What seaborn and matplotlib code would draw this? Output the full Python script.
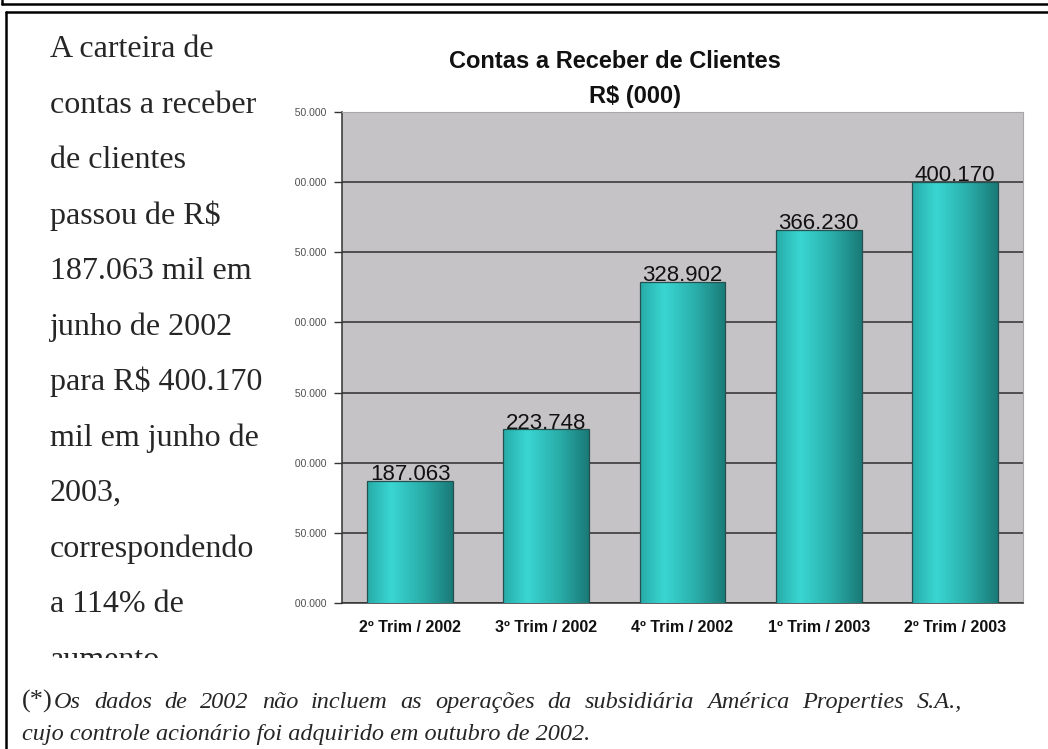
# Contas a Receber de Clientes - recriacao do grafico
import numpy as np
import pandas as pd
import matplotlib.pyplot as plt
import seaborn as sns
from matplotlib.colors import LinearSegmentedColormap
from matplotlib.lines import Line2D

# ==============================
# DADOS
# ==============================
periodos = ["2º Trim / 2002", "3º Trim / 2002", "4º Trim / 2002",
            "1º Trim / 2003", "2º Trim / 2003"]
valores = [187063, 223748, 328902, 366230, 400170]
y_ticks = [100000, 150000, 200000, 250000, 300000, 350000, 400000, 450000]

texto_lateral = [
    "A carteira de",
    "contas a receber",
    "de clientes",
    "passou de R$",
    "187.063 mil em",
    "junho de 2002",
    "para R$ 400.170",
    "mil em junho de",
    "2003,",
    "correspondendo",
    "a 114% de",
    "aumento",
]
nota_linha1 = "Os dados de 2002 não incluem as operações da subsidiária América Properties S.A.,"
nota_linha2 = "cujo controle acionário foi adquirido em outubro de 2002."

df = pd.DataFrame({"Periodo": periodos, "Valor": valores})


def fmt(v):
    return f"{v:,}".replace(",", ".")


# ==============================
# ESTILO
# ==============================
sns.set_style("white")
plt.rcParams["font.family"] = ["Liberation Sans", "DejaVu Sans"]

W, H = 1048, 749
fig = plt.figure(figsize=(W / 100, H / 100), dpi=100)


def fx(px):
    return px / W


def fy(py):
    return 1 - py / H


# ==============================
# GRAFICO
# ==============================
ax = fig.add_axes([fx(342), fy(603), (1023 - 342) / W, (603 - 112) / H], zorder=0)

sns.barplot(data=df, x="Periodo", y="Valor", ax=ax, width=0.63,
            color="#2BB5B1", edgecolor="#24514F", linewidth=0.9)

ax.set_facecolor("#C6C3C7")
ax.set_yticks(y_ticks)
ax.set_yticklabels([fmt(v) for v in y_ticks], fontsize=7.5, color="#505050")
ax.yaxis.grid(True, color="#454545", lw=1.3)
ax.set_axisbelow(True)

y_min, y_max = 100000, 450000

# degrade horizontal nas barras
cmap = LinearSegmentedColormap.from_list(
    "teal", [(0, "#27ABA7"), (0.28, "#3AD6D2"), (0.65, "#2AAEAA"), (1, "#1A7A77")])
grad = np.linspace(0, 1, 256).reshape(1, -1)
for bar in ax.patches:
    x0, w, h = bar.get_x(), bar.get_width(), bar.get_height()
    im = ax.imshow(grad, cmap=cmap, extent=[x0, x0 + w, y_min, h],
                   aspect="auto", zorder=3)
    im.set_clip_path(bar)
    bar.set_facecolor("none")
    bar.set_zorder(4)

ax.set_xlim(-0.5, 4.5)
ax.set_ylim(y_min, y_max)

ax.bar_label(ax.containers[0], labels=[fmt(v) for v in valores],
             padding=-3, fontsize=16, color="#111111", zorder=5)

ax.set_xlabel("")
ax.set_ylabel("")
ax.set_xticks(range(len(periodos)))
ax.set_xticklabels(periodos, fontsize=11.5, fontweight="bold", color="#111111")
ax.set_xticks(np.arange(-0.5, 5, 1), minor=True)
ax.tick_params(axis="x", which="major", length=0, pad=12)
ax.tick_params(axis="x", which="minor", length=6, width=1, color="#333333", direction="out")
ax.tick_params(axis="y", length=6, width=1, color="#333333", direction="out", pad=5, left=True)

for side in ["left", "bottom"]:
    ax.spines[side].set_color("#333333")
    ax.spines[side].set_linewidth(1.1)
for side in ["top", "right"]:
    ax.spines[side].set_color("#A8A8A8")
    ax.spines[side].set_linewidth(0.8)

fig.text(fx(615), fy(62), "Contas a Receber de Clientes", ha="center", va="center",
         fontsize=17, fontweight="bold", color="#111111")
fig.text(fx(635), fy(97), "R$ (000)", ha="center", va="center",
         fontsize=17, fontweight="bold", color="#111111")

# ==============================
# TEXTO LATERAL
# ==============================
ax_txt = fig.add_axes([fx(8), fy(658), (295 - 8) / W, (658 - 14) / H], zorder=2)
ax_txt.set_facecolor("white")
ax_txt.set_xticks([])
ax_txt.set_yticks([])
for s in ax_txt.spines.values():
    s.set_visible(False)
ax_txt.set_xlim(8, 295)
ax_txt.set_ylim(658, 14)

for i, linha in enumerate(texto_lateral):
    ax_txt.text(50, 57 + i * 55.5, linha, fontsize=23, family="Liberation Serif",
                ha="left", va="baseline", clip_on=True)

# ==============================
# NOTA DE RODAPE (primeira linha justificada)
# ==============================
fig.text(fx(22), fy(708), "(*)", fontsize=19, family="Liberation Serif", va="baseline")

renderer = fig.canvas.get_renderer()
palavras = nota_linha1.split(" ")
textos = [fig.text(0, fy(708), p, fontsize=17.5, family="Liberation Serif",
                   style="italic", va="baseline") for p in palavras]
larguras = [t.get_window_extent(renderer).width for t in textos]
x_ini, x_fim = 54, 962
gap = (x_fim - x_ini - sum(larguras)) / (len(palavras) - 1)
x = x_ini
for t, lw in zip(textos, larguras):
    t.set_x(fx(x))
    x += lw + gap

fig.text(fx(22), fy(740), nota_linha2, fontsize=17.5, family="Liberation Serif",
         style="italic", va="baseline")

# ==============================
# MOLDURAS
# ==============================
fig.add_artist(Line2D([fx(2), 1], [fy(4), fy(4)], color="black", lw=1.8,
                      transform=fig.transFigure, zorder=10))
fig.add_artist(Line2D([fx(2), fx(2)], [1, fy(4)], color="black", lw=1.8,
                      transform=fig.transFigure, zorder=10))
fig.add_artist(Line2D([fx(6), 1], [fy(12), fy(12)], color="black", lw=1.8,
                      transform=fig.transFigure, zorder=10))
fig.add_artist(Line2D([fx(6), fx(6)], [fy(12), 0], color="black", lw=1.8,
                      transform=fig.transFigure, zorder=10))

plt.savefig("out.png", dpi=100)
